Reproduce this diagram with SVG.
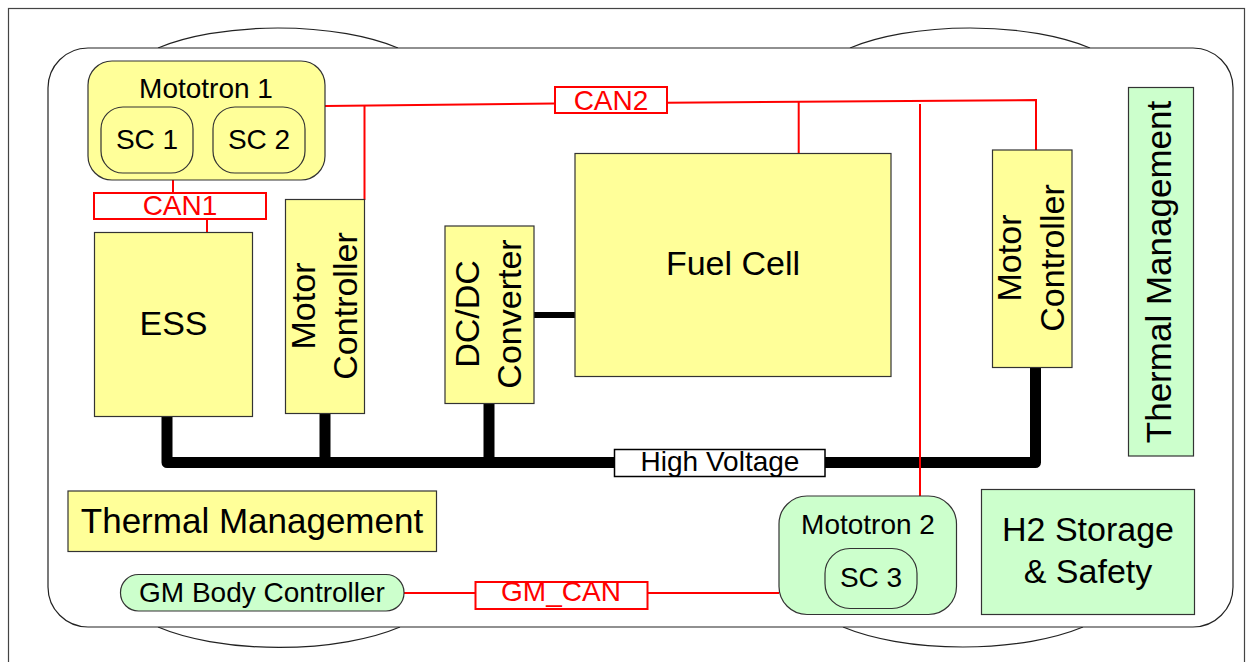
<svg xmlns="http://www.w3.org/2000/svg" width="1246" height="662" viewBox="0 0 1246 662">
<style>
text{font-family:"Liberation Sans",Arial,sans-serif;fill:#000}
.t28{font-size:28px;text-anchor:middle}
.t34{font-size:34px;text-anchor:middle}
.t35{font-size:35px;text-anchor:middle}
.red{fill:#ff0000}
.yel{fill:#ffff99;stroke:#333;stroke-width:1.2}
.grn{fill:#ccffcc;stroke:#333;stroke-width:1.2}
.can{stroke:#ff0000;stroke-width:2;fill:none}
.canbox{fill:#fff;stroke:#ff0000;stroke-width:2}
.hv{stroke:#000;stroke-width:11;fill:none;stroke-linejoin:round}
.outline{fill:none;stroke:#222;stroke-width:1.2}
</style>
<rect x="0" y="0" width="1246" height="662" fill="#fff"/>
<rect x="8.5" y="8.5" width="1236" height="700" fill="none" stroke="#444" stroke-width="1.2"/>
<g id="car">
<path class="outline" d="M158,48 A161 60 0 0 1 398,48"/>
<path class="outline" d="M850,48 A161 60 0 0 1 1090,48"/>
<path class="outline" d="M158,627 A161 60 0 0 0 400,627"/>
<path class="outline" d="M843,627 A161 60 0 0 0 1083,627"/>
<rect x="48" y="48" width="1185" height="579" rx="40" ry="40" fill="#fff" stroke="#222" stroke-width="1.2"/>
</g>
<g id="connectors">
<path class="hv" d="M167,417 V462.5 H1035.5 V367"/>
<path class="hv" d="M325,413 V462"/>
<path class="hv" d="M489,403 V462"/>
<path d="M534,315 H575" stroke="#000" stroke-width="6"/>
<path class="can" d="M173,180 V193"/>
<path class="can" d="M207,219 V232"/>
<path class="can" d="M325,106 L555,103.5"/>
<path class="can" d="M667,102.7 L1036,100 V150"/>
<path class="can" d="M364.5,105.7 V200"/>
<path class="can" d="M798.7,101 V153"/>
<path class="can" d="M920,104 V496"/>
<path class="can" d="M404,593 H475"/>
<path class="can" d="M647,593 H779"/>
</g>
<g id="can1"><rect class="canbox" x="94" y="193" width="172" height="26"/><text class="t28 red" x="180" y="214.5">CAN1</text></g>
<g id="can2"><rect class="canbox" x="555" y="87" width="112" height="26"/><text class="t28 red" x="611" y="110">CAN2</text></g>
<g id="gmcan"><rect class="canbox" x="475.5" y="582" width="172" height="27"/><text class="t28 red" x="561" y="601">GM_CAN</text></g>
<g id="hvlabel"><rect x="614.5" y="449.5" width="210.5" height="27" fill="#fff" stroke="#000" stroke-width="1.5"/><text class="t28" x="720" y="471">High Voltage</text></g>
<g id="mototron1">
<rect class="yel" x="88" y="61" width="237" height="119" rx="24" ry="24"/>
<text class="t28" x="206" y="98">Mototron 1</text>
<rect class="yel" x="101" y="107" width="92" height="66" rx="22" ry="22"/>
<text class="t28" x="147" y="149">SC 1</text>
<rect class="yel" x="213" y="107" width="92" height="66" rx="22" ry="22"/>
<text class="t28" x="259" y="149">SC 2</text>
</g>
<g id="ess"><rect class="yel" x="94.5" y="232.5" width="158" height="184"/><text class="t34" x="173.5" y="335">ESS</text></g>
<g id="mc-left"><rect class="yel" x="285.5" y="199.5" width="79" height="214"/>
<text class="t34" transform="translate(315,306) rotate(-90)">Motor</text>
<text class="t34" transform="translate(357,306) rotate(-90)">Controller</text></g>
<g id="dcdc"><rect class="yel" x="445" y="226" width="89" height="177.5"/>
<text class="t34" transform="translate(479,314) rotate(-90)">DC/DC</text>
<text class="t34" transform="translate(521,314) rotate(-90)">Converter</text></g>
<g id="fuelcell"><rect class="yel" x="575" y="153.5" width="316" height="223"/><text class="t34" x="733" y="275">Fuel Cell</text></g>
<g id="mc-right"><rect class="yel" x="992.5" y="150" width="79.5" height="217.5"/>
<text class="t34" transform="translate(1021,258) rotate(-90)">Motor</text>
<text class="t34" transform="translate(1064,258) rotate(-90)">Controller</text></g>
<g id="thermal-right"><rect class="grn" x="1128.5" y="87.5" width="65" height="368.5"/>
<text class="t35" transform="translate(1171,272) rotate(-90)">Thermal Management</text></g>
<g id="thermal-left"><rect class="yel" x="68" y="491" width="368.5" height="60.5"/><text class="t35" x="252" y="533">Thermal Management</text></g>
<g id="gmbody"><rect class="grn" x="120.5" y="574.5" width="283.5" height="36.5" rx="18" ry="18"/><text class="t28" x="262" y="602">GM Body Controller</text></g>
<g id="mototron2">
<rect class="grn" x="779" y="496" width="177.5" height="118.5" rx="28" ry="28"/>
<text class="t28" x="868" y="534">Mototron 2</text>
<rect class="grn" x="825" y="548.5" width="92" height="60" rx="25" ry="25"/>
<text class="t28" x="871" y="587">SC 3</text>
</g>
<g id="h2"><rect class="grn" x="981.5" y="489.5" width="213" height="125"/>
<text class="t34" x="1088" y="541">H2 Storage</text>
<text class="t34" x="1088" y="583">&amp; Safety</text></g>
</svg>
